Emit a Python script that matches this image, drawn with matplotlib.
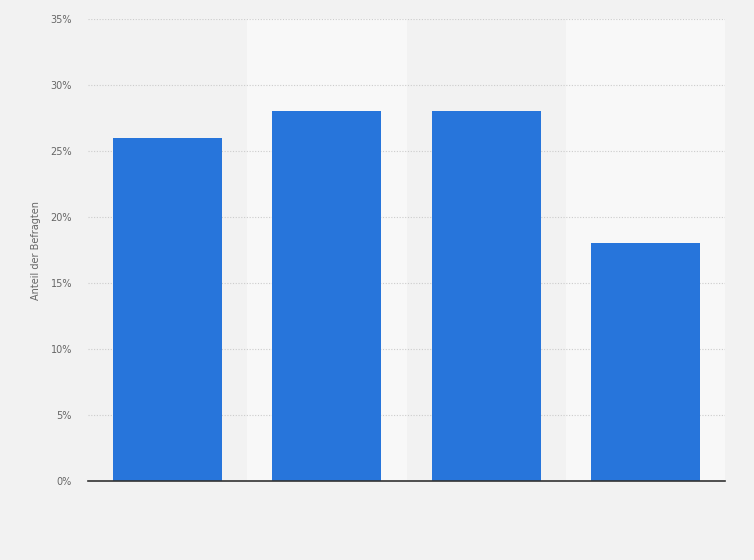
import numpy as np
import matplotlib
matplotlib.use("Agg")
from matplotlib import pyplot as plt

# values (no category labels shown)
categories = ["1", "2", "3", "4"]
shares = [26, 28, 28, 18]
y_ticks = [0, 5, 10, 15, 20, 25, 30, 35]
y_tick_labels = [f"{t}%" for t in y_ticks]

fig = plt.figure(figsize=(7.54, 5.6), dpi=100)
fig.patch.set_facecolor("#f2f2f2")
ax = fig.add_axes([88 / 754, 79 / 560, 637 / 754, 462 / 560])
ax.set_facecolor("#f2f2f2")

x = np.arange(len(categories))

# alternating column bands
for i in x:
    if i % 2 == 1:
        ax.axvspan(i - 0.5, i + 0.5, color="#f8f8f8", zorder=0, lw=0)

ax.bar(x, shares, width=0.685, color="#2775db", zorder=3)

ax.set_xlim(-0.5, len(categories) - 0.5)
ax.set_ylim(0, 35)
ax.set_yticks(y_ticks)
ax.set_yticklabels(y_tick_labels, fontsize=7, color="#666666")
ax.set_xticks([])
ax.tick_params(axis="y", length=0, pad=11.5)
ax.grid(axis="y", color="#cccccc", linestyle=(0, (1, 1.5)), linewidth=0.8, zorder=1)

for s in ["top", "right", "left"]:
    ax.spines[s].set_visible(False)
ax.spines["bottom"].set_color("#333333")
ax.spines["bottom"].set_linewidth(1.2)
ax.spines["bottom"].set_zorder(4)

ax.set_ylabel("Anteil der Befragten", fontsize=7, color="#666666", labelpad=7)

fig.savefig("out.png", dpi=100, facecolor=fig.get_facecolor())
